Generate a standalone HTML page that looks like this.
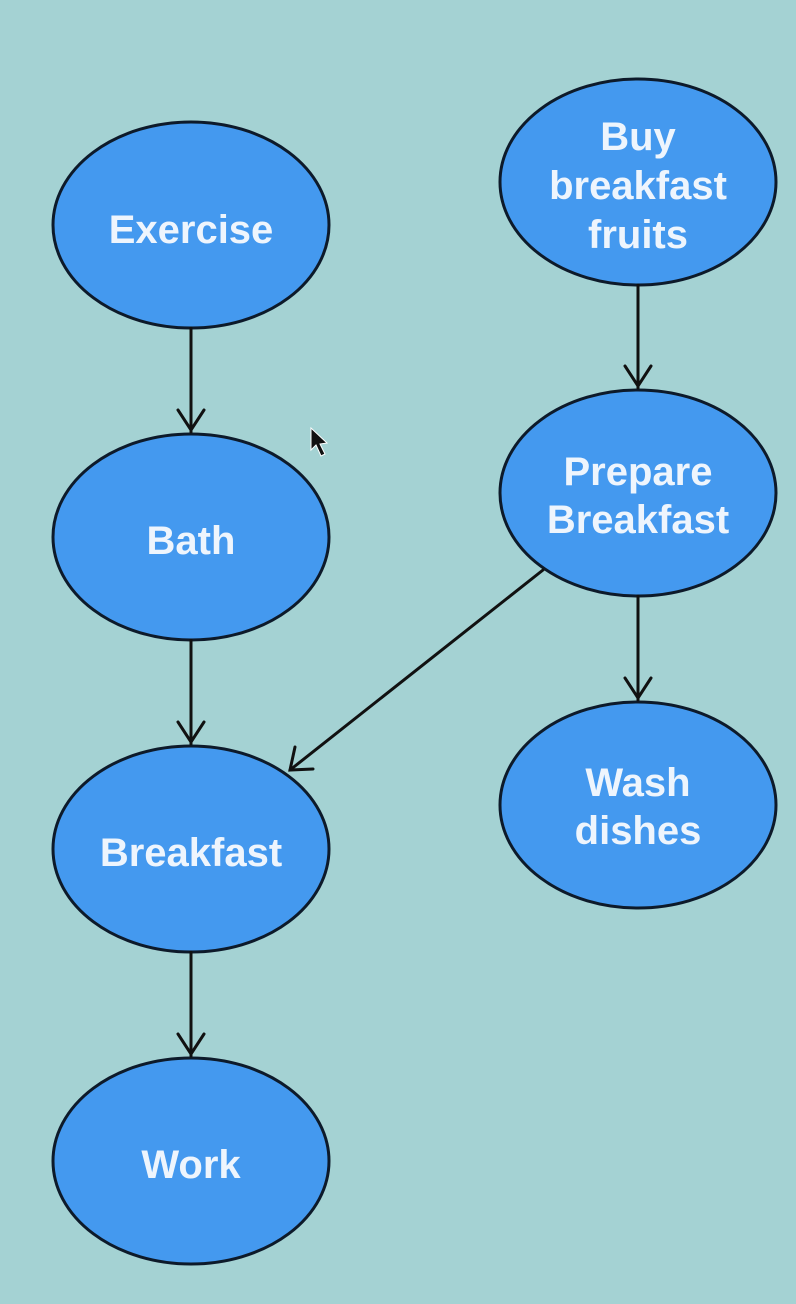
<!DOCTYPE html>
<html><head><meta charset="utf-8"><style>
html,body{margin:0;padding:0;background:#a4d2d3;}
svg{display:block}
text{font-family:"Liberation Sans",sans-serif;font-weight:bold;font-size:40px;fill:#eef5fd;text-anchor:middle;}
</style></head><body>
<svg width="796" height="1304" viewBox="0 0 796 1304" xmlns="http://www.w3.org/2000/svg">
<rect width="796" height="1304" fill="#a4d2d3"/>
<g fill="#4499ef" stroke="#0d1a2a" stroke-width="3">
<ellipse cx="191" cy="225" rx="138" ry="103"/>
<ellipse cx="191" cy="537" rx="138" ry="103"/>
<ellipse cx="191" cy="849" rx="138" ry="103"/>
<ellipse cx="191" cy="1161" rx="138" ry="103"/>
<ellipse cx="638" cy="182" rx="138" ry="103"/>
<ellipse cx="638" cy="493" rx="138" ry="103"/>
<ellipse cx="638" cy="805" rx="138" ry="103"/>
</g>
<g stroke="#111" stroke-width="3" fill="none" stroke-linecap="round">
<line x1="191" y1="328" x2="191" y2="432"/><polyline points="178,410 191,430 204,410"/>
<line x1="191" y1="640" x2="191" y2="744"/><polyline points="178,722 191,742 204,722"/>
<line x1="191" y1="952" x2="191" y2="1056"/><polyline points="178,1034 191,1054 204,1034"/>
<line x1="638" y1="285" x2="638" y2="388"/><polyline points="625,366 638,386 651,366"/>
<line x1="638" y1="596" x2="638" y2="700"/><polyline points="625,678 638,698 651,678"/>
<line x1="543" y1="570" x2="290" y2="770"/><polyline points="295,747 290,770 313,769"/>
</g>
<polygon points="311,428 311,450 316,445 321,456 325,454 320,444 327,443" fill="#111" stroke="#fff" stroke-width="1"/>
<text x="191" y="243">Exercise</text>
<text x="191" y="554">Bath</text>
<text x="191" y="866">Breakfast</text>
<text x="191" y="1178">Work</text>
<text x="638" y="150">Buy</text>
<text x="638" y="199">breakfast</text>
<text x="638" y="248">fruits</text>
<text x="638" y="485">Prepare</text>
<text x="638" y="533">Breakfast</text>
<text x="638" y="796">Wash</text>
<text x="638" y="844">dishes</text>
</svg>
</body></html>
